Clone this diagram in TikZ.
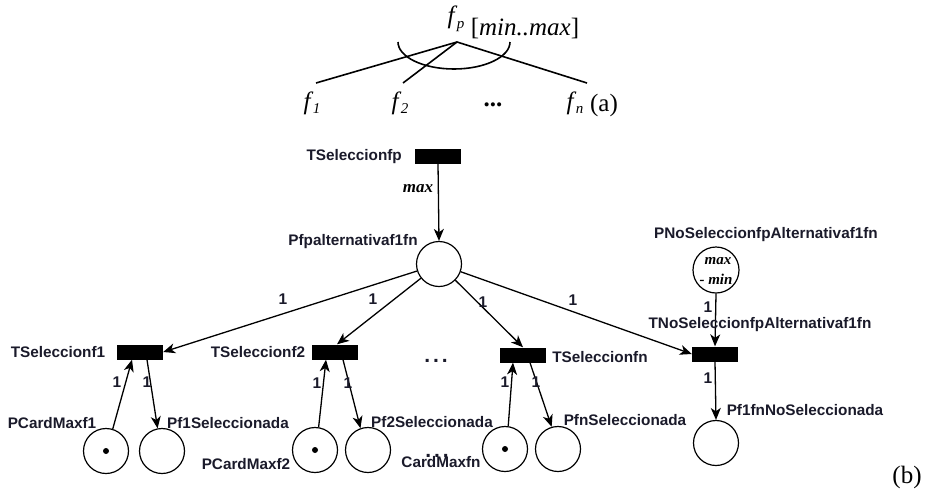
\documentclass[tikz,border=0pt]{standalone}
\usepackage{fontspec}
\setmainfont{Liberation Serif}
\setsansfont{Liberation Sans}
\usetikzlibrary{arrows.meta}
\definecolor{labcol}{HTML}{1A1A2A}
\newcommand\fsym[1]{\textit{f}\kern-0.5pt\raisebox{-0.4ex}{\fontsize{15}{15}\selectfont\textit{#1}}}
\newcommand\spdots{{\fontsize{21}{21}\selectfont.\hspace{3pt}.\hspace{3pt}.}}
\begin{document}
\begin{tikzpicture}[x=1pt,y=-1pt,
  place/.style={circle,draw,line width=1.2pt,minimum size=45pt,inner sep=0pt},
  trans/.style={rectangle,fill=black,minimum width=46pt,minimum height=15pt,inner sep=0pt},
  lab/.style={text=labcol,font=\sffamily\bfseries\fontsize{15.3}{16}\selectfont,inner sep=0pt},
  wt/.style={text=labcol,font=\sffamily\bfseries\fontsize{15.5}{16}\selectfont,inner sep=0pt},
  emph/.style={font=\rmfamily\bfseries\itshape\fontsize{17}{17}\selectfont,inner sep=0pt},
  arc/.style={-{Stealth[length=12pt,width=10pt,inset=3.5pt]},line width=1.3pt},
  tree/.style={line width=1.6pt},
  big/.style={font=\rmfamily\fontsize{25}{25}\selectfont,inner sep=0pt}]
\useasboundingbox (0,0) rectangle (925,493);

% ---------- (a) feature group with cardinality ----------
\coordinate (apex) at (457,42);
\coordinate (e1) at (316,83);
\coordinate (e2) at (403,83);
\coordinate (en) at (587,83);
\coordinate (arcL) at (398,42);
\draw[tree] (apex) -- (e1);
\draw[tree] (apex) -- (e2);
\draw[tree] (apex) -- (en);
\draw[tree] (arcL) arc[start angle=180,end angle=360,x radius=56pt,y radius=27pt];
\node[big] (fp) at (456,19) {\fsym{p}};
\node[big] (card) at (525,28) {[\textit{min..max}]};
\node[big] (f1) at (312,103) {\fsym{1}};
\node[big] (f2) at (400,103) {\fsym{2}};
\node[big] (fdots) at (493,105) {\textbf{...}};
\node[big] (fn) at (575,103) {\fsym{n}};
\node[big] (la) at (604,105) {(a)};

% ---------- (b) Petri net ----------
% transitions
\node[trans] (tfp) at (438,156) {};
\node[trans] (t1) at (140,352) {};
\node[trans] (t2) at (335,352) {};
\node[trans] (tn) at (523,355) {};
\node[trans] (tno) at (715,354) {};

% places
\node[place] (pfp) at (439,264) {};
\node[place,minimum size=46pt] (pno) at (716,270) {};
\node[place] (pc1) at (106,451) {};
\node[place] (pf1) at (162,451) {};
\node[place] (pc2) at (315,450) {};
\node[place] (pf2) at (368,450) {};
\node[place] (pcn) at (505,449) {};
\node[place] (pfn) at (558,449) {};
\node[place] (pfno) at (716,443) {};

% initial marking of the upper place
\node[emph,font=\rmfamily\bfseries\itshape\fontsize{15}{15}\selectfont] (mmax) at (718,261) {max};
\node[emph,font=\rmfamily\bfseries\itshape\fontsize{15}{15}\selectfont] (mmin) at (716,279) {- min};

% tokens
\fill (pc1) circle[radius=3pt];
\fill (pc2) circle[radius=3pt];
\fill (pcn) circle[radius=3pt];

% arcs
\draw[arc] (tfp.south) -- (pfp.north);
\draw[arc] (pfp) -- (t1.east);
\draw[arc] (pfp) -- ([xshift=2pt]t2.north);
\draw[arc] (pfp) -- (tn.north);
\draw[arc] (pfp) -- (tno.west);
\draw[arc] (pno.south) -- (tno.north);
\draw[arc] (tno.south) -- (pfno.north);
\draw[arc] (pc1.73) -- ([xshift=-8pt]t1.south);
\draw[arc] ([xshift=7pt]t1.south) -- (pf1.101);
\draw[arc] (pc2.81) -- ([xshift=-9pt]t2.south);
\draw[arc] ([xshift=8pt]t2.south) -- (pf2.109);
\draw[arc] (pcn.82) -- ([xshift=-10pt]tn.south);
\draw[arc] ([xshift=7pt]tn.south) -- (pfn.106);

% arc weights
\node[emph] (wmax) at (418,189) {max};
\node[wt] (w1) at (283,299) {1};
\node[wt] (w2) at (373,299) {1};
\node[wt] (w3) at (483,302) {1};
\node[wt] (w4) at (573,300) {1};
\node[wt] (w5) at (708,307) {1};
\node[wt] (w6) at (708,378) {1};
\node[wt] (w7) at (117,382) {1};
\node[wt] (w8) at (147,382) {1};
\node[wt] (w9) at (317,383) {1};
\node[wt] (w10) at (348,383) {1};
\node[wt] (w11) at (505,382) {1};
\node[wt] (w12) at (536,382) {1};

% names
\node[lab,anchor=east] (ltfp) at (402,157) {TSeleccionfp};
\node[lab] (lpfp) at (353,242) {Pfpalternativaf1fn};
\node[lab] (lpno) at (766,235) {PNoSeleccionfpAlternativaf1fn};
\node[lab] (ltno) at (760,325) {TNoSeleccionfpAlternativaf1fn};
\node[lab] (lt1) at (58,352) {TSeleccionf1};
\node[lab] (lt2) at (258,352) {TSeleccionf2};
\node[lab] (ltn) at (600,357) {TSeleccionfn};
\node[lab] (lpc1) at (52,423) {PCardMaxf1};
\node[lab] (lpf1) at (228,423) {Pf1Seleccionada};
\node[lab] (lpc2) at (246,464) {PCardMaxf2};
\node[lab] (lpf2) at (432,422) {Pf2Seleccionada};
\node[lab] (lpcn) at (441,462) {CardMaxfn};
\node[lab] (lpfn) at (625,420) {PfnSeleccionada};
\node[lab] (lpfno) at (805,410) {Pf1fnNoSeleccionada};
\node[lab,anchor=base] (dots1) at (436,362) {\spdots};
\node[lab,anchor=base] (dots2) at (437,457) {\spdots};
\node[big] (lb) at (907,477) {(b)};
\end{tikzpicture}
\end{document}
